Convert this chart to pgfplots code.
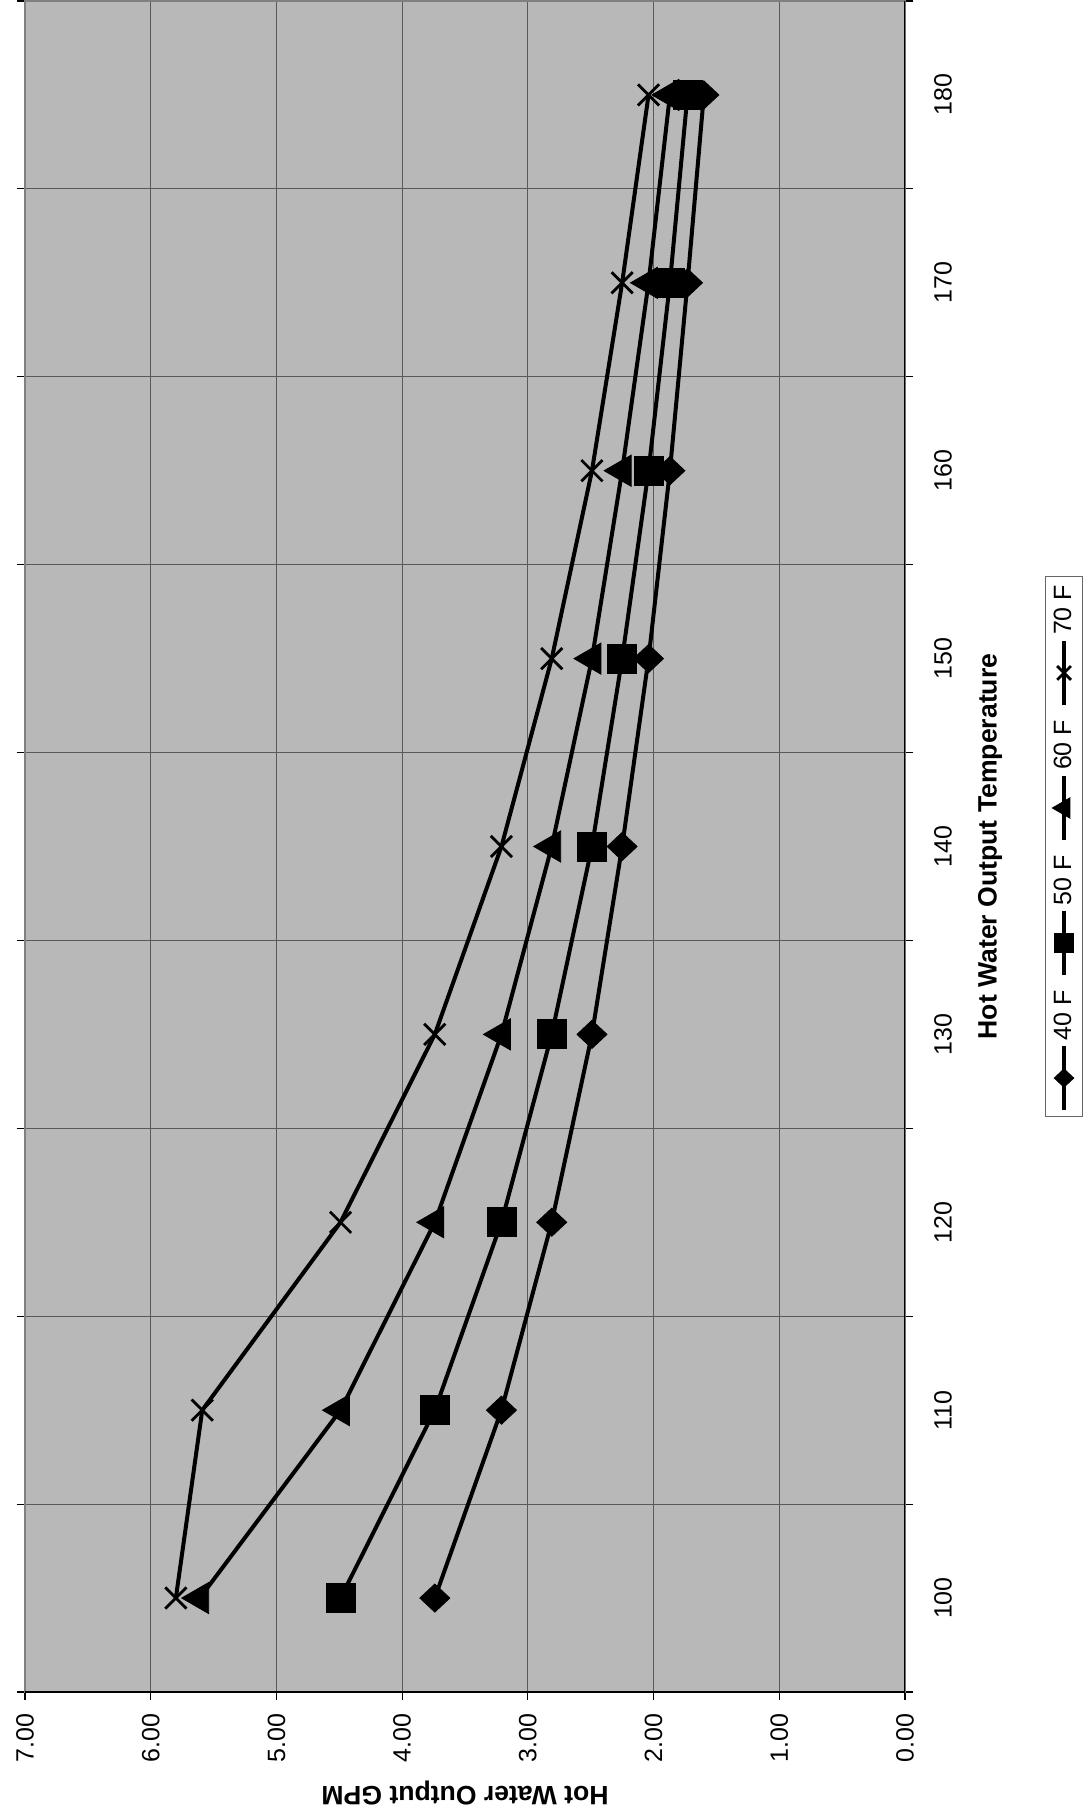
\documentclass[border=0pt]{standalone}
\usepackage{pgfplots}
\pgfplotsset{compat=1.18}
\usepackage{fontspec}
\setmainfont{Liberation Sans}
\usepackage{graphicx}
\definecolor{plotbg}{gray}{0.72}
\begin{document}
\rotatebox{90}{%
\begin{tikzpicture}
\begin{axis}[
  scale only axis, width=845.5pt, height=440pt,
  xmin=95, xmax=185, ymin=0, ymax=7,
  axis background/.style={fill=plotbg},
  axis line style={black!50, line width=0.6pt},
  xtick={100,110,...,180},
  minor xtick={95,105,...,185},
  ytick={0,1,...,7},
  tick align=outside,
  major tick length=4pt, minor tick length=4pt,
  every tick/.append style={black, line width=0.6pt},
  every major x tick/.append style={draw=none},
  xminorgrids=true, ymajorgrids=true,
  major grid style={black!65, line width=0.5pt},
  minor grid style={black!65, line width=0.5pt},
  /pgf/number format/assume math mode=true,
  ticklabel style={font=\fontsize{12.5}{15}\selectfont},
  y tick label style={/pgf/number format/.cd, fixed, fixed zerofill, precision=2, /tikz/.cd, inner sep=0pt, xshift=-6.5pt},
  x tick label style={inner sep=0pt, yshift=-10.4pt},
  xlabel={Hot Water Output Temperature},
  ylabel={Hot Water Output GPM},
  label style={font=\bfseries\fontsize{13.3}{16}\selectfont},
  xlabel style={at={(axis description cs:0.5,-0.0966)}, anchor=center},
  ylabel style={at={(axis description cs:-0.0597,0.5)}, anchor=center},
  legend columns=4,
  legend style={at={(axis description cs:0.5,-0.1807)}, anchor=center,
    draw=black!60, line width=0.5pt, fill=white, inner sep=2pt,
    font=\fontsize{12.5}{15}\selectfont,
    /tikz/every even column/.append style={column sep=4.5pt}},
  legend image code/.code={\draw[mark repeat=2, mark phase=2, #1, every mark/.append style={scale=0.65}] plot coordinates {(0pt,0pt) (16pt,0pt) (32pt,0pt)};},
]
\addplot[black, line width=2pt, mark=diamond*, mark size=7.5pt, mark options={solid, xscale=1.25, line width=0.4pt}] coordinates {
(100,3.74) (110,3.21) (120,2.81) (130,2.49) (140,2.25) (150,2.04) (160,1.87) (170,1.73) (180,1.60)};
\addplot[black, line width=2pt, mark=square*, mark size=7.25pt, mark options={solid, line width=0.4pt}] coordinates {
(100,4.49) (110,3.74) (120,3.21) (130,2.81) (140,2.49) (150,2.25) (160,2.04) (170,1.87) (180,1.73)};
\addplot[black, line width=2pt, mark=triangle*, mark size=9pt, mark options={solid, line width=0.4pt}] coordinates {
(100,5.61) (110,4.49) (120,3.74) (130,3.21) (140,2.81) (150,2.49) (160,2.25) (170,2.04) (180,1.87)};
\addplot[black, line width=2pt, mark=x, mark size=7.5pt, mark options={solid, line width=1.4pt}] coordinates {
(100,5.80) (110,5.59) (120,4.49) (130,3.74) (140,3.21) (150,2.81) (160,2.49) (170,2.25) (180,2.04)};
\legend{40 F, 50 F, 60 F, 70 F}
\draw[black, line width=0.8pt] (rel axis cs:0,1) -- (rel axis cs:0,0) -- (rel axis cs:1,0);
\end{axis}
\pgfresetboundingbox
\path[use as bounding box] (-63pt,-91pt) rectangle (846pt,452.5pt);
\end{tikzpicture}}
\end{document}
